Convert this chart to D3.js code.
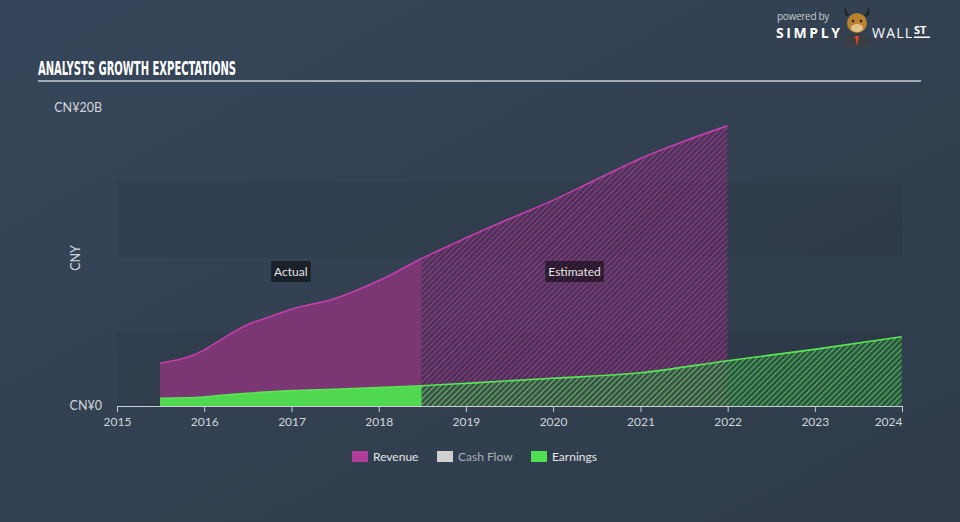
<!DOCTYPE html>
<html><head><meta charset="utf-8">
<script src="https://cdn.jsdelivr.net/npm/d3@7"></script>
<style>
html,body{margin:0;padding:0;background:#334354;}
svg{display:block;}
</style></head>
<body>
<svg id="chart" width="960" height="522"></svg>
<script>
// ---- data ----
const revenueDates = ["2015-06-30","2015-12-31","2016-01-31","2016-06-30","2016-09-30","2016-12-31","2017-06-30","2017-12-31","2018-06-30","2018-12-31","2019-06-30","2019-12-31","2020-06-30","2020-12-31","2021-06-30","2021-12-31"];
const revenueValues = [2.87,3.75,4.05,5.45,5.98,6.5,7.2,8.4,9.9,11.27,12.55,13.8,15.2,16.6,17.75,18.8];
const earningsDates = ["2015-06-30","2015-12-31","2016-01-31","2016-06-30","2016-12-31","2017-06-30","2017-12-31","2018-06-30","2018-12-31","2019-12-31","2020-12-31","2021-12-31","2022-12-31","2023-12-31"];
const earningsValues = [0.51,0.6,0.65,0.85,1.03,1.12,1.23,1.36,1.52,1.86,2.23,3.04,3.8,4.65];
const splitDate = "2018-06-30";
const yTickLabels = ["CN¥0","CN¥20B"];
const yTickValues = [0,20];
const legendNames = ["Revenue","Cash Flow","Earnings"];
const legendColors = ["#b13c9c","#d0d0d0","#4fe04f"];

// ---- setup ----
const svg = d3.select("#chart");
const W = 960, H = 522;
const parse = d3.timeParse("%Y-%m-%d");
const defs = svg.append("defs");

const bg = defs.append("linearGradient").attr("id","bg").attr("x1","0").attr("y1","0").attr("x2","1").attr("y2","1");
bg.append("stop").attr("offset","0").attr("stop-color","#36465a");
bg.append("stop").attr("offset","1").attr("stop-color","#2f3b49");
svg.append("rect").attr("width",W).attr("height",H).attr("fill","url(#bg)");

const x = d3.scaleTime().domain([new Date(2015,0,1), new Date(2024,0,1)]).range([117,902]);
const y = d3.scaleLinear().domain([0,20]).range([406,108]);

// bands
[[0,5],[10,15]].forEach(b=>{
  svg.append("rect").attr("x",x.range()[0]).attr("width",x.range()[1]-x.range()[0])
    .attr("y",y(b[1])).attr("height",y(b[0])-y(b[1])).attr("fill","#000").attr("opacity",0.06);
});

// hatch patterns
function hatch(id, color){
  const p = defs.append("pattern").attr("id",id).attr("patternUnits","userSpaceOnUse")
    .attr("width",4).attr("height",4).attr("patternTransform","rotate(45)");
  p.append("line").attr("x1",0).attr("y1",0).attr("x2",0).attr("y2",4)
    .attr("stroke",color).attr("stroke-width",1.7);
}
hatch("hatchRev","#a33c94");
hatch("hatchEarn","#52d452");

const xs = x(parse(splitDate));
defs.append("clipPath").attr("id","clipA").append("rect").attr("x",0).attr("y",0).attr("width",xs).attr("height",H);
defs.append("clipPath").attr("id","clipE").append("rect").attr("x",xs).attr("y",0).attr("width",W-xs).attr("height",H);

function series(dates, vals){ return dates.map((d,i)=>({date:parse(d), v:vals[i]})); }
const rev = series(revenueDates, revenueValues);
const earn = series(earningsDates, earningsValues);

const area = d3.area().x(d=>x(d.date)).y0(y(0)).y1(d=>y(d.v)).curve(d3.curveMonotoneX);
const line = d3.line().x(d=>x(d.date)).y(d=>y(d.v)).curve(d3.curveMonotoneX);

function drawSeries(data, solid, hatchId, estBase, stroke){
  svg.append("path").attr("d",area(data)).attr("fill",solid).attr("clip-path","url(#clipA)");
  svg.append("path").attr("d",area(data)).attr("fill",estBase).attr("clip-path","url(#clipE)");
  svg.append("path").attr("d",area(data)).attr("fill","url(#"+hatchId+")").attr("clip-path","url(#clipE)");
  svg.append("path").attr("d",line(data)).attr("fill","none").attr("stroke",stroke).attr("stroke-width",1.6);
}
drawSeries(rev, "#7b3773", "hatchRev", "rgba(95,45,95,0.6)", "#c43fab");
drawSeries(earn, "#50d850", "hatchEarn", "rgba(50,110,65,0.5)", "#58e655");

// axis
const axis = d3.axisBottom(x).tickValues(d3.range(2015,2025).map(yr=>new Date(yr,0,1)))
  .tickFormat(d3.timeFormat("%Y")).tickSize(6).tickSizeOuter(0);
const gx = svg.append("g").attr("transform","translate(0,406)").call(axis);
gx.select(".domain").attr("stroke","#c9ced4").attr("stroke-width",1.2);
gx.selectAll(".tick line").attr("stroke","#c9ced4");
gx.selectAll(".tick text").attr("fill","#d2d6da").attr("font-family","Lato, 'Open Sans', sans-serif")
  .attr("font-size",12).attr("dy","0.95em");
gx.selectAll(".tick text").filter((d,i,n)=>i===n.length-1).attr("text-anchor","end");

// y labels
svg.selectAll(".ylab").data(yTickValues).enter().append("text")
  .attr("x",102).attr("y",d=>y(d)+4).attr("text-anchor","end")
  .attr("fill","#d2d6da").attr("font-family","Lato, 'Open Sans', sans-serif").attr("font-size",12.5)
  .text((d,i)=>yTickLabels[i]);
svg.append("text").attr("transform","translate(80,258) rotate(-90)").attr("text-anchor","middle")
  .attr("fill","#d2d6da").attr("font-family","Lato, 'Open Sans', sans-serif").attr("font-size",12.5).text("CNY");

// annotations
function tag(label, cx){
  const g = svg.append("g");
  const t = g.append("text").attr("x",cx).attr("y",276).attr("text-anchor","middle")
    .attr("fill","#e6e6e6").attr("font-family","Lato, 'Open Sans', sans-serif").attr("font-size",12).text(label);
  const bb = t.node().getBBox();
  g.insert("rect","text").attr("x",bb.x-3).attr("y",261).attr("width",bb.width+6).attr("height",21)
    .attr("fill","#000").attr("opacity",0.5);
}
tag("Actual", (x(rev[0].date)+xs)/2);
tag("Estimated", (xs+x(rev[rev.length-1].date))/2);

// title
svg.append("text").attr("x",38).attr("y",75).attr("fill","#ffffff")
  .attr("font-family","'DejaVu Sans Condensed','DejaVu Sans',sans-serif").attr("font-weight","bold")
  .attr("font-size",20).attr("textLength",198).attr("lengthAdjust","spacingAndGlyphs")
  .text("ANALYSTS GROWTH EXPECTATIONS");
svg.append("rect").attr("x",38).attr("y",80).attr("width",883).attr("height",2).attr("fill","#a3abb4");

// legend
const lg = svg.append("g");
const legendX = [352,437,531];
legendNames.forEach((n,i)=>{
  lg.append("rect").attr("x",legendX[i]).attr("y",451).attr("width",16).attr("height",11).attr("fill",legendColors[i]);
  lg.append("text").attr("x",legendX[i]+21).attr("y",460.5).attr("fill", i===1?"#aab0b7":"#e4e6e8")
    .attr("font-family","Lato, 'Open Sans', sans-serif").attr("font-size",12).text(n);
});

// logo
const logo = svg.append("g");
logo.append("text").attr("x",777).attr("y",20).attr("fill","#c8ccd0").attr("font-family","'Open Sans',sans-serif")
  .attr("font-size",10).attr("letter-spacing","-0.3").text("powered by");
logo.append("text").attr("x",776).attr("y",38).attr("fill","#ffffff").attr("font-family","'Open Sans',sans-serif")
  .attr("font-weight","bold").attr("font-size",14).attr("textLength",64).text("SIMPLY");
logo.append("text").attr("x",872).attr("y",38).attr("fill","#ffffff").attr("font-family","'Open Sans',sans-serif")
  .attr("font-size",14).attr("textLength",40).text("WALL");
logo.append("text").attr("x",914).attr("y",34).attr("fill","#ffffff").attr("font-family","'Open Sans',sans-serif")
  .attr("font-weight","bold").attr("font-size",11).text("ST");
logo.append("rect").attr("x",914).attr("y",36.5).attr("width",16).attr("height",1.5).attr("fill","#fff");
// bull icon
logo.append("path").attr("d","M843,46 Q845,34 857,33 Q869,34 871,46 Z").attr("fill","#3a3d42");
logo.append("path").attr("d","M855,36 L857,46 L859,36 Z").attr("fill","#d8491f");
logo.append("path").attr("d","M846,16 Q843,10 846,7 Q846,13 850,15 Z M868,16 Q871,10 868,7 Q868,13 864,15 Z").attr("fill","#222");
logo.append("ellipse").attr("cx",857).attr("cy",23).attr("rx",10).attr("ry",10).attr("fill","#b9822f");
logo.append("ellipse").attr("cx",857).attr("cy",28).attr("rx",6).attr("ry",4).attr("fill","#e2c28e");
logo.append("circle").attr("cx",853).attr("cy",21).attr("r",1.2).attr("fill","#222");
logo.append("circle").attr("cx",861).attr("cy",21).attr("r",1.2).attr("fill","#222");
</script>
</body></html>
